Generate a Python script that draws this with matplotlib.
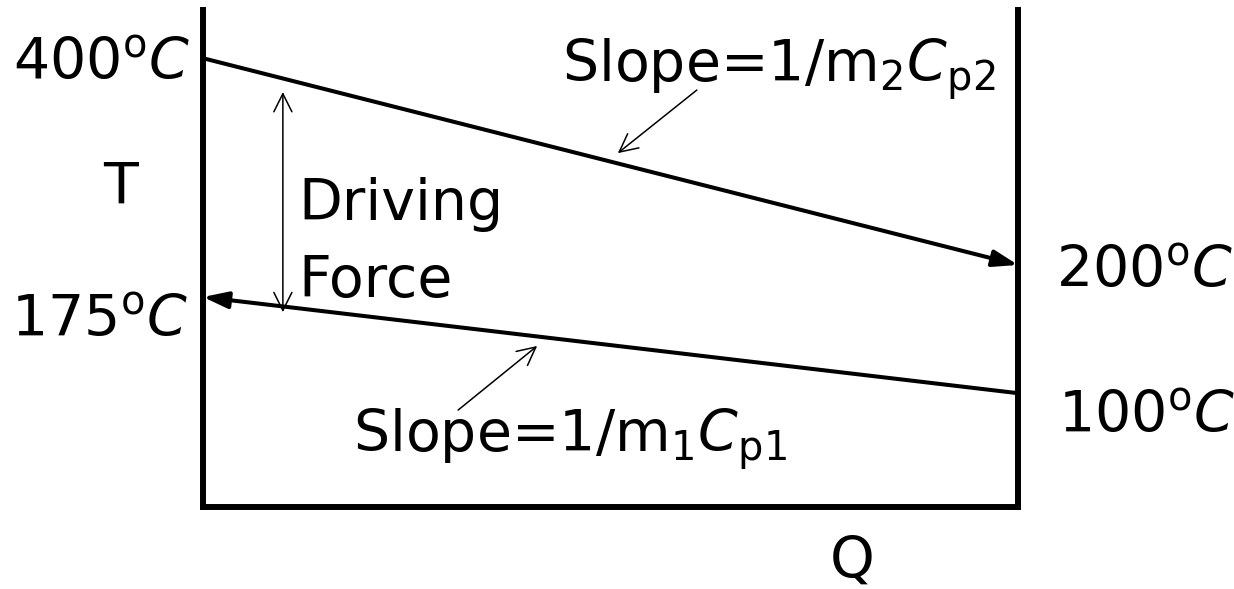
import matplotlib
matplotlib.use("Agg")
import matplotlib.pyplot as plt

plt.rcParams['font.family'] = ['DejaVu Sans']
plt.rcParams['mathtext.fontset'] = 'custom'
plt.rcParams['mathtext.rm'] = 'DejaVu Sans'
plt.rcParams['mathtext.it'] = 'DejaVu Sans:italic'

# Data (schematic diagram heights, 0..1 of plot height)
q_ends = [0.0, 1.0]
hot_level = [0.903, 0.487]     # hot stream: 400 C -> 200 C
cold_level = [0.4225, 0.229]   # cold stream: 175 C -> 100 C
hot_labels = ["400", "200"]
cold_labels = ["175", "100"]

fig = plt.figure(figsize=(12.34, 5.89), dpi=100)
ax = fig.add_axes([203/1234, 1-507/589, 815/1234, 497/589])
ax.set_xlim(0, 1)
ax.set_ylim(0, 1)
ax.set_xticks([])
ax.set_yticks([])
for s in ['left', 'right', 'bottom']:
    ax.spines[s].set_linewidth(4.3)
ax.spines['top'].set_visible(False)
ax.patch.set_visible(False)

fs = 41

def tlabel(v):
    return v + r"$^{\mathregular{o}}$$\mathit{C}$"

big_head = "-|>,head_length=1.5,head_width=0.5"
thin_head = "->,head_length=1.3,head_width=0.65"

# hot line with arrow at right
ax.annotate("", xy=(q_ends[1], hot_level[1]), xytext=(q_ends[0], hot_level[0]),
            arrowprops=dict(arrowstyle=big_head, lw=2.9, color="black",
                            shrinkA=0, shrinkB=0))
# cold line with arrow at left
ax.annotate("", xy=(q_ends[0], cold_level[0]), xytext=(q_ends[1], cold_level[1]),
            arrowprops=dict(arrowstyle=big_head, lw=2.9, color="black",
                            shrinkA=0, shrinkB=0))

# driving force double arrow
ax.annotate("", xy=(0.098, 0.835), xytext=(0.098, 0.392),
            arrowprops=dict(arrowstyle="<->,head_length=1.3,head_width=0.65", lw=1.1,
                            color="black", shrinkA=0, shrinkB=0))

# slope annotations
ax.annotate("", xy=(0.509, 0.712), xytext=(0.606, 0.839),
            arrowprops=dict(arrowstyle=thin_head, lw=1.1, color="black",
                            shrinkA=0, shrinkB=0))
ax.annotate("", xy=(0.410, 0.324), xytext=(0.313, 0.195),
            arrowprops=dict(arrowstyle=thin_head, lw=1.1, color="black",
                            shrinkA=0, shrinkB=0))

# Temperature labels
ax.text(-0.016, 0.859, tlabel(hot_labels[0]), fontsize=fs, ha='right', va='baseline')
ax.text(-0.236, 0.342, tlabel(cold_labels[0]), fontsize=fs, ha='left', va='baseline')
ax.text(1.047, 0.4406, tlabel(hot_labels[1]), fontsize=fs, ha='left', va='baseline')
ax.text(1.049, 0.149, tlabel(cold_labels[1]), fontsize=fs, ha='left', va='baseline')

ax.text(-0.1006, 0.611, "T", fontsize=fs, ha='center', va='baseline')
ax.text(0.7963, -0.143, "Q", fontsize=fs, ha='center', va='baseline')

ax.text(0.117, 0.577, "Driving", fontsize=fs, ha='left', va='baseline')
ax.text(0.117, 0.4225, "Force", fontsize=fs, ha='left', va='baseline')

ax.text(0.4405, 0.855, r"Slope=1/m$_{\mathregular{2}}$$\mathit{C}$$_{\mathregular{p2}}$",
        fontsize=fs, ha='left', va='baseline')
ax.text(0.184, 0.1107, r"Slope=1/m$_{\mathregular{1}}$$\mathit{C}$$_{\mathregular{p1}}$",
        fontsize=fs, ha='left', va='baseline')

fig.savefig("out.png", dpi=100)
